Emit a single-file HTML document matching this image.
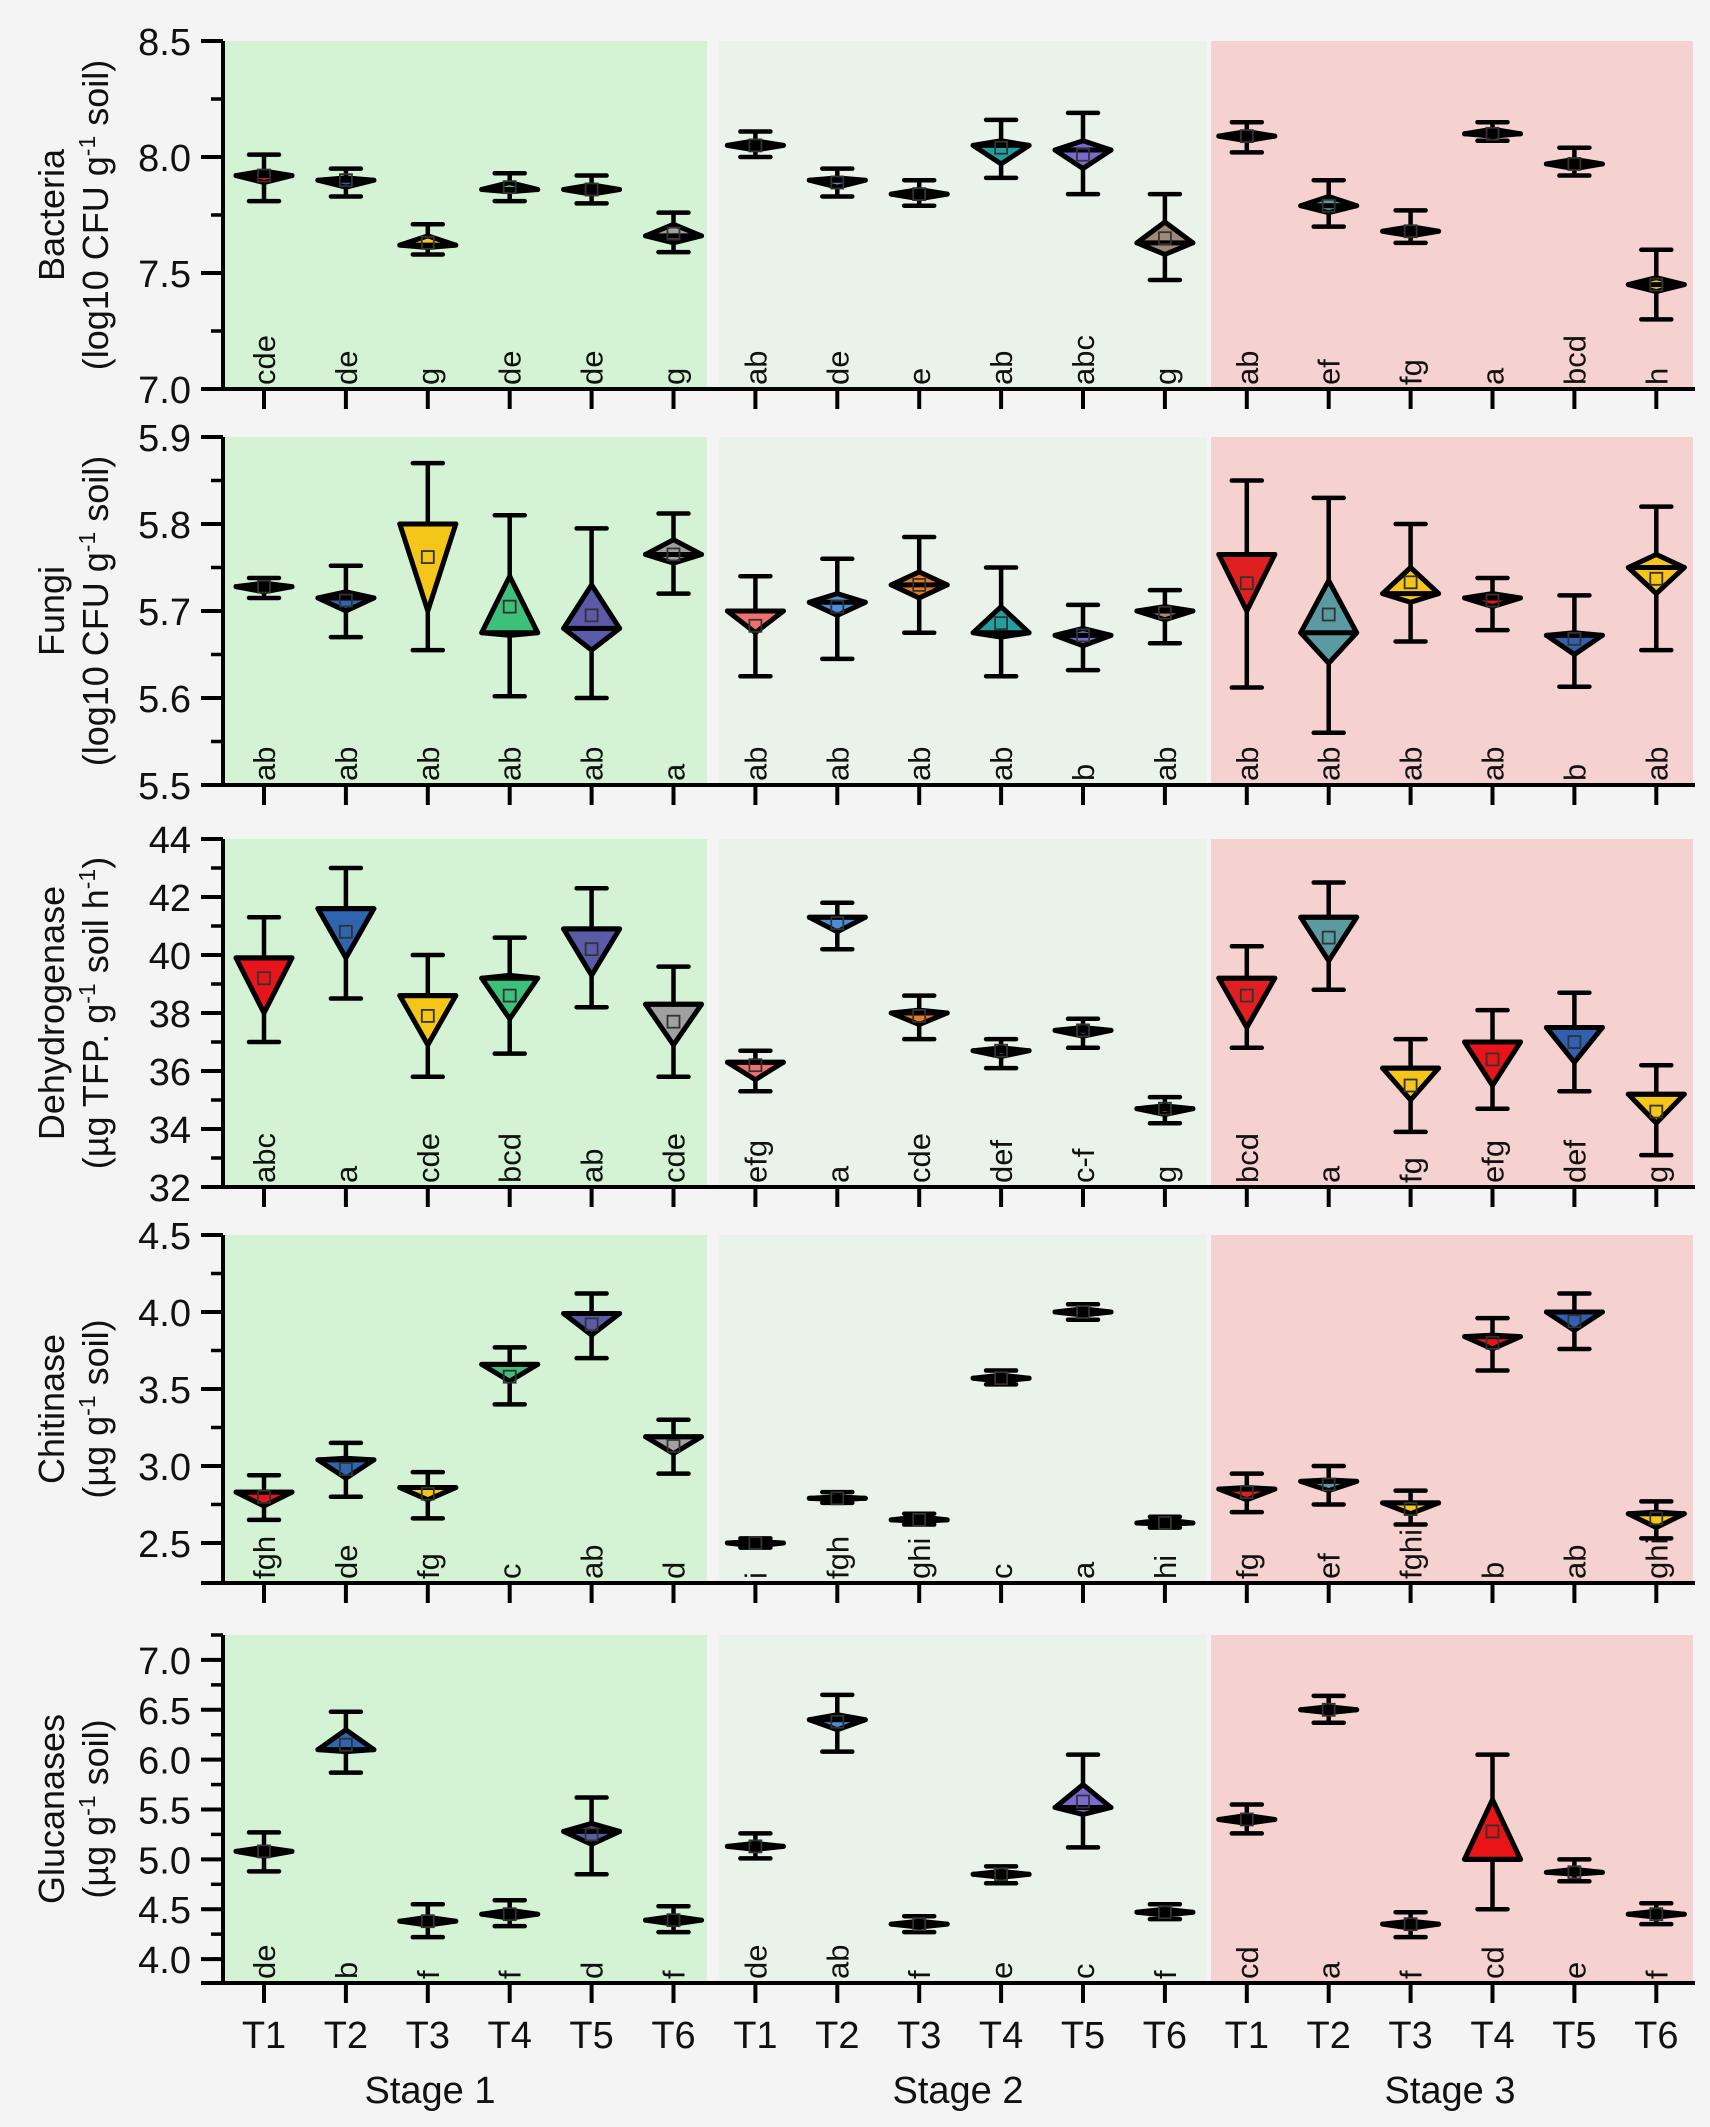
<!DOCTYPE html>
<html><head><meta charset="utf-8">
<style>
html,body{margin:0;padding:0;background:#f4f4f4;}
svg{display:block;font-family:"Liberation Sans",Arial,sans-serif;}
</style></head>
<body>
<svg id="chart" width="1710" height="2127" viewBox="0 0 1710 2127" xmlns="http://www.w3.org/2000/svg">
<rect x="0" y="0" width="1710" height="2127" fill="#f4f4f4"/>
</svg>
<script>
const categories=["T1","T2","T3","T4","T5","T6"];
const stages=["Stage 1","Stage 2","Stage 3"];
const colors=["#e8141c","#2e64b0","#f5c518","#3cc07a","#5a5aa8","#a0a0a0","#f07070","#4a90d8","#e87a20","#20a0a0","#7a6ad0","#a08878","#e02020","#5a9aa0","#f5c518","#e81418","#3060b0","#f5c518"];

// Panel 1 Bacteria
const bacMean=[7.92,7.90,7.63,7.87,7.86,7.67,8.05,7.89,7.84,8.04,8.01,7.65,8.09,7.79,7.68,8.10,7.97,7.45];
const bacLo=[7.81,7.83,7.58,7.81,7.80,7.59,8.00,7.83,7.79,7.91,7.84,7.47,8.02,7.70,7.63,8.07,7.92,7.30];
const bacHi=[8.01,7.95,7.71,7.93,7.92,7.76,8.11,7.95,7.90,8.16,8.19,7.84,8.15,7.90,7.77,8.15,8.04,7.60];
const bacQ1=[7.89,7.87,7.61,7.85,7.84,7.63,8.03,7.87,7.82,7.97,7.95,7.58,8.07,7.76,7.66,8.09,7.95,7.42];
const bacQ3=[7.94,7.91,7.66,7.89,7.88,7.71,8.07,7.91,7.86,8.07,8.07,7.72,8.11,7.83,7.70,8.12,7.99,7.48];
const bacMed=[7.92,7.90,7.62,7.86,7.86,7.66,8.05,7.90,7.84,8.05,8.03,7.63,8.09,7.79,7.68,8.10,7.97,7.45];
const bacLetters=["cde","de","g","de","de","g","ab","de","e","ab","abc","g","ab","ef","fg","a","bcd","h"];

// Panel 2 Fungi
const funMean=[5.728,5.712,5.762,5.705,5.695,5.765,5.683,5.705,5.730,5.686,5.672,5.698,5.732,5.696,5.733,5.712,5.668,5.737];
const funLo=[5.715,5.670,5.655,5.602,5.600,5.720,5.625,5.645,5.675,5.625,5.632,5.663,5.612,5.560,5.665,5.678,5.613,5.655];
const funHi=[5.738,5.752,5.870,5.810,5.795,5.812,5.740,5.760,5.785,5.750,5.707,5.724,5.850,5.830,5.800,5.738,5.718,5.820];
const funQ1=[5.722,5.700,5.700,5.672,5.655,5.755,5.675,5.695,5.715,5.670,5.660,5.690,5.700,5.640,5.710,5.705,5.650,5.720];
const funQ3=[5.732,5.722,5.800,5.740,5.730,5.782,5.700,5.720,5.745,5.705,5.680,5.705,5.765,5.735,5.750,5.720,5.675,5.765];
const funMed=[5.728,5.715,5.800,5.675,5.680,5.765,5.700,5.710,5.730,5.675,5.672,5.700,5.765,5.675,5.720,5.715,5.672,5.750];
const funLetters=["ab","ab","ab","ab","ab","a","ab","ab","ab","ab","b","ab","ab","ab","ab","ab","b","ab"];

// Panel 3 Dehydrogenase
const dehMean=[39.2,40.8,37.9,38.6,40.2,37.7,36.2,41.1,37.9,36.7,37.4,34.7,38.6,40.6,35.5,36.4,37.0,34.6];
const dehLo=[37.0,38.5,35.8,36.6,38.2,35.8,35.3,40.2,37.1,36.1,36.8,34.2,36.8,38.8,33.9,34.7,35.3,33.1];
const dehHi=[41.3,43.0,40.0,40.6,42.3,39.6,36.7,41.8,38.6,37.1,37.8,35.1,40.3,42.5,37.1,38.1,38.7,36.2];
const dehQ1=[38.0,39.9,36.9,37.8,39.3,36.9,35.7,40.8,37.6,36.5,37.2,34.5,37.5,39.8,35.0,35.5,36.3,34.2];
const dehQ3=[39.9,41.6,38.6,39.3,40.9,38.3,36.3,41.3,38.1,36.8,37.5,34.8,39.2,41.3,36.1,37.0,37.5,35.2];
const dehMed=[39.9,41.6,38.6,39.2,40.9,38.3,36.3,41.3,38.0,36.7,37.4,34.7,39.2,41.3,36.1,37.0,37.5,35.2];
const dehLetters=["abc","a","cde","bcd","ab","cde","efg","a","cde","def","c-f","g","bcd","a","fg","efg","def","g"];

// Panel 4 Chitinase
const chiMean=[2.80,2.98,2.82,3.58,3.92,3.13,2.50,2.79,2.65,3.57,4.00,2.63,2.83,2.88,2.72,3.80,3.94,2.66];
const chiLo=[2.65,2.80,2.66,3.40,3.70,2.95,2.47,2.76,2.62,3.53,3.95,2.60,2.70,2.75,2.62,3.62,3.76,2.53];
const chiHi=[2.94,3.15,2.96,3.77,4.12,3.30,2.53,2.83,2.69,3.62,4.05,2.67,2.95,3.00,2.84,3.96,4.12,2.77];
const chiQ1=[2.74,2.92,2.78,3.55,3.85,3.08,2.48,2.78,2.64,3.55,3.98,2.62,2.78,2.84,2.69,3.76,3.88,2.60];
const chiQ3=[2.83,3.05,2.86,3.66,3.99,3.19,2.51,2.80,2.67,3.59,4.02,2.65,2.86,2.91,2.76,3.85,4.00,2.70];
const chiMed=[2.83,3.04,2.86,3.66,3.99,3.19,2.50,2.79,2.65,3.57,4.00,2.63,2.85,2.90,2.76,3.84,4.00,2.69];
const chiLetters=["fgh","de","fg","c","ab","d","i","fgh","ghi","c","a","hi","fg","ef","fghi","b","ab","ghi"];

// Panel 5 Glucanases
const gluMean=[5.08,6.15,4.38,4.45,5.25,4.39,5.13,6.38,4.35,4.85,5.58,4.47,5.40,6.50,4.35,5.28,4.87,4.45];
const gluLo=[4.88,5.87,4.22,4.33,4.85,4.27,5.01,6.08,4.27,4.76,5.12,4.40,5.26,6.37,4.22,4.50,4.78,4.35];
const gluHi=[5.27,6.48,4.55,4.59,5.62,4.53,5.26,6.65,4.43,4.93,6.05,4.55,5.55,6.64,4.47,6.05,5.00,4.56];
const gluQ1=[5.03,6.08,4.34,4.41,5.15,4.35,5.10,6.30,4.32,4.82,5.45,4.44,5.36,6.47,4.31,5.00,4.85,4.42];
const gluQ3=[5.12,6.30,4.42,4.49,5.36,4.43,5.16,6.45,4.38,4.88,5.75,4.50,5.44,6.53,4.38,5.60,4.90,4.48];
const gluMed=[5.08,6.10,4.38,4.45,5.28,4.39,5.13,6.40,4.35,4.85,5.52,4.47,5.40,6.50,4.35,5.00,4.87,4.45];
const gluLetters=["de","b","f","f","d","f","de","ab","f","e","c","f","cd","a","f","cd","e","f"];

const ticks1=[7.0,7.5,8.0,8.5];
const ticks2=[5.5,5.6,5.7,5.8,5.9];
const ticks3=[32,34,36,38,40,42,44];
const ticks4=[2.5,3.0,3.5,4.0,4.5];
const ticks5=[4.0,4.5,5.0,5.5,6.0,6.5,7.0];

const NS="http://www.w3.org/2000/svg";
const svg=document.getElementById('chart');
function mk(tag,attrs,parent){const e=document.createElementNS(NS,tag);for(const k in attrs)e.setAttribute(k,attrs[k]);(parent||svg).appendChild(e);return e;}

const X0=223, X1=1692;
function xPos(i){return 264+i*81.9;}
const stageBg=[[224,707,"#d4f3d4"],[719,1207,"#eaf3e9"],[1211,1693,"#f5d2cf"]];

const panels=[
 {name:"bacteria",top:41,min:7.0,max:8.5,ticks:ticks1,fmt:1,minor:0.25,label:["Bacteria","(log10 CFU g","-1"," soil)"],mean:bacMean,lo:bacLo,hi:bacHi,q1:bacQ1,q3:bacQ3,med:bacMed,letters:bacLetters},
 {name:"fungi",top:437,min:5.5,max:5.9,ticks:ticks2,fmt:1,minor:0.05,label:["Fungi","(log10 CFU g","-1"," soil)"],mean:funMean,lo:funLo,hi:funHi,q1:funQ1,q3:funQ3,med:funMed,letters:funLetters},
 {name:"dehydrogenase",top:839,min:32,max:44,ticks:ticks3,fmt:0,minor:1,label:["Dehydrogenase","(µg TFP. g","-1"," soil h","-1",")"],mean:dehMean,lo:dehLo,hi:dehHi,q1:dehQ1,q3:dehQ3,med:dehMed,letters:dehLetters},
 {name:"chitinase",top:1235,min:2.24,max:4.5,ticks:ticks4,fmt:1,minor:0.25,label:["Chitinase","(µg g","-1"," soil)"],mean:chiMean,lo:chiLo,hi:chiHi,q1:chiQ1,q3:chiQ3,med:chiMed,letters:chiLetters},
 {name:"glucanases",top:1635,min:3.76,max:7.25,ticks:ticks5,fmt:1,minor:0.25,label:["Glucanases","(µg g","-1"," soil)"],mean:gluMean,lo:gluLo,hi:gluHi,q1:gluQ1,q3:gluQ3,med:gluMed,letters:gluLetters}
];
const H=348;

panels.forEach((p,pi)=>{
  const g=mk('g',{});
  
  
  const bot=p.top+H;
  const y=v=>bot-(v-p.min)/(p.max-p.min)*H;
  stageBg.forEach((s,si)=>{
    const r=mk('rect',{x:s[0],y:p.top,width:s[1]-s[0],height:H,fill:s[2]},g);
    
    
  });
  for(let v=p.ticks[0];v<=p.max+1e-9;v+=p.minor){
    const t=mk('line',{x1:X0-12,x2:X0,y1:y(v),y2:y(v),stroke:'#000','stroke-width':3.5},g);
    
    
  }
  p.ticks.forEach(v=>{
    const t=mk('line',{x1:X0-22,x2:X0,y1:y(v),y2:y(v),stroke:'#000','stroke-width':4},g);
    
    
    const tx=mk('text',{x:X0-32,y:y(v)+14,'text-anchor':'end','font-size':38,fill:'#111'},g);
    tx.textContent=v.toFixed(p.fmt);
    
    
  });
  const ax=mk('line',{x1:X0,x2:X0,y1:p.top,y2:bot,stroke:'#000','stroke-width':4},g);
  
  
  const bx=mk('line',{x1:X0-22,x2:X1+3,y1:bot,y2:bot,stroke:'#000','stroke-width':4},g);
  
  
  for(let i=0;i<18;i++){
    const t=mk('line',{x1:xPos(i),x2:xPos(i),y1:bot,y2:bot+20,stroke:'#000','stroke-width':4},g);
    
    
  }
  const cy=p.top+H/2;
  const t1=mk('text',{x:0,y:0,'text-anchor':'middle','font-size':36,fill:'#111',transform:`translate(64,${cy}) rotate(-90)`},g);
  t1.textContent=p.label[0];
  
  
  const t2=mk('text',{x:0,y:0,'text-anchor':'middle','font-size':36,fill:'#111',transform:`translate(108,${cy}) rotate(-90)`},g);
  
  
  for(let k=1;k<p.label.length;k++){
    const s=document.createElementNS(NS,'tspan');
    s.textContent=p.label[k];
    if(p.label[k]==="-1"){s.setAttribute('dy','-13');s.setAttribute('font-size','23');}
    else if(k>1 && p.label[k-1]==="-1"){s.setAttribute('dy','13');}
    t2.appendChild(s);
  }
  for(let i=0;i<18;i++){
    const cx=xPos(i), w=28, cap=15;
    const mg=mk('g',{},g);
    
    
    mk('line',{x1:cx,x2:cx,y1:y(p.lo[i]),y2:y(p.hi[i]),stroke:'#000','stroke-width':4.5},mg);
    mk('line',{x1:cx-cap,x2:cx+cap,y1:y(p.lo[i]),y2:y(p.lo[i]),stroke:'#000','stroke-width':4.5,'stroke-linecap':'round'},mg);
    mk('line',{x1:cx-cap,x2:cx+cap,y1:y(p.hi[i]),y2:y(p.hi[i]),stroke:'#000','stroke-width':4.5,'stroke-linecap':'round'},mg);
    const ym=y(p.med[i]);
    mk('polygon',{points:`${cx},${y(p.q3[i])} ${cx+w},${ym} ${cx},${y(p.q1[i])} ${cx-w},${ym}`,fill:colors[i],stroke:'#000','stroke-width':5,'stroke-linejoin':'round'},mg);
    mk('line',{x1:cx-w,x2:cx+w,y1:ym,y2:ym,stroke:'#000','stroke-width':5,'stroke-linecap':'round'},mg);
    const yy=y(p.mean[i]);
    mk('rect',{x:cx-6,y:yy-6,width:12,height:12,fill:'none',stroke:'#333','stroke-width':1.8},mg);
    const lt=mk('text',{x:0,y:0,'font-size':31,fill:'#111',transform:`translate(${cx+11},${bot-4}) rotate(-90)`},g);
    lt.textContent=p.letters[i];
    
    
  }
});
for(let i=0;i<18;i++){
  const t=mk('text',{x:xPos(i),y:2048,'text-anchor':'middle','font-size':38,fill:'#111'});
  t.textContent=categories[i%6];
  
  
}
const stageX=[430,958,1450];
stages.forEach((s,si)=>{
  const t=mk('text',{x:stageX[si],y:2103,'text-anchor':'middle','font-size':38,fill:'#111'});
  t.textContent=s;
  
  
});
</script>
</body></html>
